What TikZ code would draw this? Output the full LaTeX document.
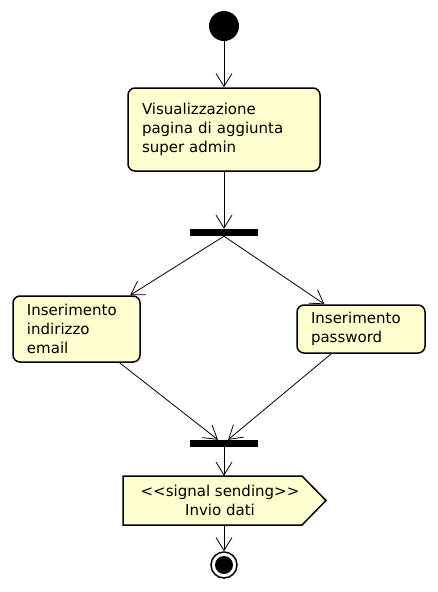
\documentclass[tikz,border=0pt]{standalone}
\usepackage{fontspec}
\setmainfont{DejaVu Sans}
\usetikzlibrary{arrows.meta}
\definecolor{actfill}{HTML}{FEFECE}
\tikzset{
  azione/.style={draw, line width=1.5pt, fill=actfill, rounded corners=7pt,
    align=left, inner xsep=14pt, inner ysep=0pt,
    font=\fontsize{15}{19}\selectfont},
  barra/.style={fill=black, minimum width=68pt, minimum height=7pt, inner sep=0pt},
  freccia/.style={-{Straight Barb[length=13pt,width=16pt]}, line width=0.8pt},
}
\begin{document}
\begin{tikzpicture}[x=1pt, y=-1pt]
    \useasboundingbox (0,0) rectangle (437,592);
    % inizio
    \node[circle, fill=black, minimum size=30pt, inner sep=0pt] (inizio) at (224,26) {};
    % azioni
    \node[azione, text width=164pt, minimum height=83pt] (visual) at (224,129.5)
        {Visualizzazione\\pagina di aggiunta\\super admin};
    \node[barra] (fork) at (224,232.5) {};
    \node[azione, text width=99pt, minimum height=66pt] (email) at (76.5,329)
        {Inserimento\\indirizzo\\email};
    \node[azione, text width=100pt, minimum height=48pt] (password) at (361,329)
        {Inserimento\\password};
    \node[barra] (join) at (224,443.5) {};
    % invio segnale
    \filldraw[line width=1.5pt, fill=actfill] (123,476) -- (302,476) -- (326,500.5)
        -- (302,525) -- (123,525) -- cycle;
    \node[align=center, inner sep=0pt, minimum height=49pt,
        font=\fontsize{15}{19}\selectfont] (invio) at (220,500.5)
        {<{}<signal sending>{}>\\Invio dati};
    % fine
    \node[circle, draw, line width=1.5pt, fill=white, minimum size=26pt, inner sep=0pt,
        path picture={\fill[black] (path picture bounding box.center) circle (9pt);}]
        (fine) at (224,565) {};
    % frecce
    \draw[freccia] (inizio) -- (visual);
    \draw[freccia] (visual) -- (fork);
    \draw[freccia] (fork.south) -- (email);
    \draw[freccia] (fork.south) -- (password);
    \draw[freccia] (email) -- ([xshift=-6pt]join.north);
    \draw[freccia] (password) -- ([xshift=4pt]join.north);
    \draw[freccia] (join.south) -- (join.south |- invio.north);
    \draw[freccia] (join.south |- invio.south) -- (fine);
\end{tikzpicture}
\end{document}
